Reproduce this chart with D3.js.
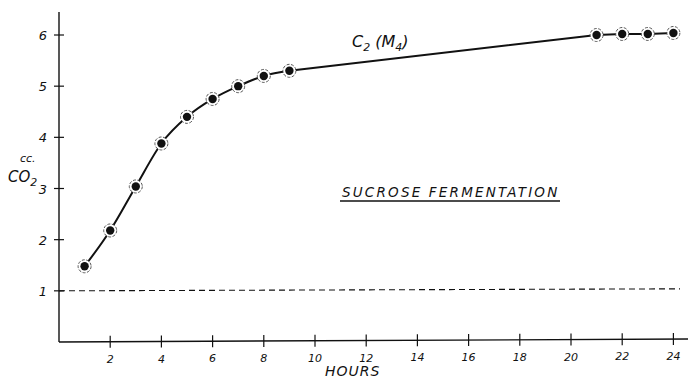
<!DOCTYPE html>
<html>
<head>
<meta charset="utf-8">
<script src="https://cdn.jsdelivr.net/npm/d3@7"></script>
<style>
  body { margin: 0; background: #fff; }
  text { font-family: "DejaVu Sans", sans-serif; font-style: italic; fill: #111; }
</style>
</head>
<body>
<script>
// hours vs cc CO2
const hours = [1, 2, 3, 4, 5, 6, 7, 8, 9, 21, 22, 23, 24];
const co2 = [1.48, 2.18, 3.04, 3.88, 4.4, 4.75, 5.0, 5.2, 5.3, 6.0, 6.02, 6.02, 6.04];
const xTicks = [2, 4, 6, 8, 10, 12, 14, 16, 18, 20, 22, 24];
const yTicks = [1, 2, 3, 4, 5, 6];
const baseline = 1;

const W = 688, H = 380;
const svg = d3.select("body").append("svg")
  .attr("width", W)
  .attr("height", H);

const x = d3.scaleLinear().domain([0, 24]).range([59, 673.4]);
const y = d3.scaleLinear().domain([0, 6]).range([342, 35]);

// axes lines
svg.append("line")
  .attr("x1", x(0)).attr("y1", 12)
  .attr("x2", x(0)).attr("y2", y(0))
  .attr("stroke", "#111").attr("stroke-width", 1.4);
svg.append("line")
  .attr("x1", x(0)).attr("y1", y(0))
  .attr("x2", 688).attr("y2", y(0) - 3)
  .attr("stroke", "#111").attr("stroke-width", 1.4);

// y ticks
const yg = svg.append("g");
yg.selectAll("line").data(yTicks).enter().append("line")
  .attr("x1", x(0) - 5).attr("x2", x(0) + 5)
  .attr("y1", d => y(d)).attr("y2", d => y(d))
  .attr("stroke", "#111").attr("stroke-width", 1.2);
yg.selectAll("text").data(yTicks).enter().append("text")
  .attr("x", x(0) - 12).attr("y", d => y(d) + 5)
  .attr("text-anchor", "end")
  .attr("font-size", 13)
  .text(d => d);

// x ticks (axis drifts up slightly to the right)
const axisY = d => y(0) - 3 * (x(d) - x(0)) / (688 - x(0));
const xg = svg.append("g");
xg.selectAll("line").data(xTicks).enter().append("line")
  .attr("x1", d => x(d)).attr("x2", d => x(d))
  .attr("y1", d => axisY(d) - 6).attr("y2", d => axisY(d) + 6)
  .attr("stroke", "#111").attr("stroke-width", 1.2);
xg.selectAll("text").data(xTicks).enter().append("text")
  .attr("x", d => x(d)).attr("y", d => axisY(d) + 21)
  .attr("text-anchor", "middle")
  .attr("font-size", 11)
  .text(d => d);

// dashed reference line
svg.append("line")
  .attr("x1", x(0)).attr("x2", 680)
  .attr("y1", y(baseline)).attr("y2", y(baseline) - 2)
  .attr("stroke", "#111").attr("stroke-width", 1.1)
  .attr("stroke-dasharray", "6,4");

// curve: smooth through the early readings, straight across the gap
const pts = hours.map((h, i) => [h, co2[i]]);
const line = d3.line().x(d => x(d[0])).y(d => y(d[1]));
svg.append("path")
  .datum(pts.slice(0, 9))
  .attr("d", line.curve(d3.curveMonotoneX))
  .attr("fill", "none")
  .attr("stroke", "#111")
  .attr("stroke-width", 2);
svg.append("path")
  .datum(pts.slice(8))
  .attr("d", line.curve(d3.curveLinear))
  .attr("fill", "none")
  .attr("stroke", "#111")
  .attr("stroke-width", 2);

const marks = svg.append("g");
marks.selectAll("circle.ring").data(pts).enter().append("circle")
  .attr("class", "ring")
  .attr("cx", d => x(d[0])).attr("cy", d => y(d[1]))
  .attr("r", 6.5)
  .attr("fill", "#fff")
  .attr("stroke", "#444").attr("stroke-width", 0.9)
  .attr("stroke-dasharray", "3,1.5");
marks.selectAll("circle.dot").data(pts).enter().append("circle")
  .attr("class", "dot")
  .attr("cx", d => x(d[0])).attr("cy", d => y(d[1]))
  .attr("r", 4.2)
  .attr("fill", "#111");

// labels
const series = svg.append("text").attr("x", 352).attr("y", 47).attr("font-size", 16);
series.append("tspan").text("C");
series.append("tspan").attr("font-size", 11).attr("dy", 4).text("2");
series.append("tspan").attr("dy", -4).text(" (M");
series.append("tspan").attr("font-size", 11).attr("dy", 4).text("4");
series.append("tspan").attr("dy", -4).text(")");

svg.append("text")
  .attr("x", 342).attr("y", 197)
  .attr("font-size", 13.5)
  .attr("letter-spacing", 2.2)
  .text("SUCROSE FERMENTATION");
svg.append("line")
  .attr("x1", 340).attr("x2", 560)
  .attr("y1", 201).attr("y2", 201)
  .attr("stroke", "#111").attr("stroke-width", 1.6);

svg.append("text").attr("x", 20).attr("y", 162).attr("font-size", 11).text("cc.");
const co = svg.append("text").attr("x", 8).attr("y", 182).attr("font-size", 15);
co.append("tspan").text("CO");
co.append("tspan").attr("font-size", 11).attr("dy", 4).text("2");

svg.append("text")
  .attr("x", 325).attr("y", 376)
  .attr("font-size", 14)
  .attr("letter-spacing", 1)
  .text("HOURS");
</script>
</body>
</html>
